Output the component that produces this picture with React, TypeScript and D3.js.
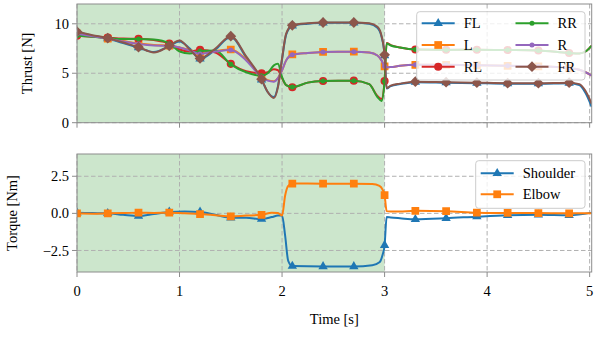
import React from "react";
import * as d3 from "d3";

// thrust samples (s) and per-rotor thrust (N)
const thrustTime = [0, 0.15, 0.3, 0.45, 0.6, 0.75, 0.9, 1.0, 1.1, 1.2, 1.35, 1.5, 1.65, 1.8, 1.86, 1.92, 1.96, 2.0, 2.04, 2.1, 2.25, 2.4, 2.55, 2.7, 2.85, 2.93, 2.97, 3.0, 3.02, 3.06, 3.15, 3.3, 3.6, 3.9, 4.2, 4.5, 4.8, 4.9, 4.96, 5.02];
const thrustFL = [9.15, 8.8, 8.5, 8.05, 7.6, 7.15, 7.75, 8.2, 7.5, 6.45, 7.4, 8.7, 6.6, 4.35, 3.1, 2.6, 3.7, 6.4, 8.9, 9.8, 10.0, 10.1, 10.1, 10.1, 10.0, 9.6, 8.7, 6.8, 3.45, 3.7, 3.9, 4.1, 4.05, 4.0, 3.95, 3.95, 4.0, 3.8, 3.0, 1.6];
const thrustL = [9.0, 8.75, 8.5, 8.25, 8.0, 7.85, 7.8, 7.6, 7.35, 7.05, 7.25, 7.4, 6.4, 4.7, 4.3, 4.2, 4.5, 5.3, 6.3, 6.9, 7.05, 7.15, 7.18, 7.18, 7.1, 6.8, 6.3, 5.7, 5.6, 5.62, 5.75, 5.85, 5.85, 5.8, 5.75, 5.7, 5.5, 5.35, 5.1, 4.75];
const thrustRL = [8.8, 8.7, 8.6, 8.5, 8.48, 8.35, 8.0, 7.4, 7.2, 7.37, 7.1, 5.95, 5.2, 5.0, 5.1, 5.4, 5.3, 4.5, 3.8, 3.58, 4.05, 4.22, 4.25, 4.25, 3.9, 2.7, 2.4, 4.22, 8.05, 7.85, 7.6, 7.4, 7.38, 7.38, 7.35, 7.3, 7.05, 7.0, 7.2, 7.8];
const thrustRR = [8.8, 8.7, 8.55, 8.45, 8.45, 8.4, 8.0, 7.2, 7.0, 7.25, 7.3, 5.9, 5.1, 4.75, 5.0, 5.8, 5.95, 4.6, 3.8, 3.6, 4.05, 4.22, 4.25, 4.25, 3.9, 2.6, 2.2, 4.2, 8.0, 7.8, 7.6, 7.4, 7.35, 7.38, 7.35, 7.3, 7.05, 7.0, 7.2, 7.8];
const thrustR = [9.0, 8.75, 8.5, 8.2, 7.95, 7.8, 7.77, 7.6, 7.3, 6.95, 7.2, 7.35, 6.3, 4.6, 4.25, 4.15, 4.5, 5.3, 6.3, 6.86, 7.05, 7.15, 7.18, 7.18, 7.1, 6.8, 6.3, 5.7, 5.6, 5.62, 5.75, 5.85, 5.85, 5.8, 5.75, 5.7, 5.5, 5.35, 5.1, 4.75];
const thrustFR = [9.2, 8.85, 8.55, 8.1, 7.64, 7.1, 7.77, 8.3, 7.4, 6.5, 7.5, 8.75, 6.7, 4.4, 3.1, 2.5, 3.6, 6.5, 9.0, 9.85, 10.05, 10.13, 10.13, 10.13, 10.05, 9.7, 8.8, 6.86, 3.5, 3.75, 3.95, 4.15, 4.1, 4.05, 4.0, 4.0, 4.05, 3.9, 3.2, 1.9];

// torque samples (s) and joint torques (Nm)
const torqueTime = [0, 0.15, 0.3, 0.45, 0.6, 0.75, 0.9, 1.05, 1.2, 1.35, 1.5, 1.65, 1.8, 1.9, 1.96, 2.0, 2.03, 2.06, 2.1, 2.4, 2.7, 2.88, 2.95, 2.98, 3.0, 3.02, 3.06, 3.15, 3.3, 3.6, 3.9, 4.2, 4.5, 4.8, 5.02];
const torqueShoulder = [0.04, 0.02, 0.0, -0.1, -0.18, -0.05, 0.1, 0.12, 0.1, -0.1, -0.3, -0.3, -0.38, -0.25, -0.15, -0.15, -1.5, -3.2, -3.55, -3.58, -3.58, -3.5, -3.3, -2.8, -2.15, -0.25, -0.28, -0.33, -0.4, -0.33, -0.22, -0.13, -0.1, -0.13, 0.05];
const torqueElbow = [0.0, -0.02, 0.0, 0.02, 0.05, 0.03, 0.05, 0.0, -0.05, -0.12, -0.2, -0.15, -0.1, 0.05, 0.02, -0.15, 1.2, 1.85, 2.01, 2.0, 2.0, 1.98, 1.85, 1.6, 1.23, 0.15, 0.12, 0.13, 0.17, 0.15, 0.05, 0.03, 0.02, 0.0, 0.0];

const xTicks = [0, 1, 2, 3, 4, 5];
const thrustTicks = [0, 5, 10];
const torqueTicks = [-2.5, 0, 2.5];
const shadeSpan = [0, 3];

const FONT = "'Liberation Serif', 'DejaVu Serif', serif";
const FS = 14.5;
const GRID = "#b0b0b0";
const SPINE = "#8c8c8c";

type Shape = "tri" | "sq" | "circ" | "dot" | "dia";
const symbolFor = (s: Shape) => {
  if (s === "tri") return d3.symbol(d3.symbolTriangle, 38)();
  if (s === "sq") return d3.symbol(d3.symbolSquare, 60)();
  if (s === "circ") return d3.symbol(d3.symbolCircle, 52)();
  if (s === "dot") return d3.symbol(d3.symbolCircle, 20)();
  return d3.symbol(d3.symbolSquare, 58)();
};

const Marker = ({ shape, x, y, color }: { shape: Shape; x: number; y: number; color: string }) => (
  <path
    d={symbolFor(shape) as string}
    transform={`translate(${x},${y})${shape === "dia" ? " rotate(45)" : ""}`}
    fill={color}
  />
);

const thrustSeries = [
  { name: "FL", vals: thrustFL, color: "#1f77b4", shape: "tri" as Shape },
  { name: "L", vals: thrustL, color: "#ff7f0e", shape: "sq" as Shape },
  { name: "RL", vals: thrustRL, color: "#d62728", shape: "circ" as Shape },
  { name: "RR", vals: thrustRR, color: "#2ca02c", shape: "dot" as Shape },
  { name: "R", vals: thrustR, color: "#9467bd", shape: "dot" as Shape },
  { name: "FR", vals: thrustFR, color: "#8c564b", shape: "dia" as Shape },
];
const torqueSeries = [
  { name: "Shoulder", vals: torqueShoulder, color: "#1f77b4", shape: "tri" as Shape },
  { name: "Elbow", vals: torqueElbow, color: "#ff7f0e", shape: "sq" as Shape },
];

const isMarkTime = (t: number) => t <= 4.81 && Math.abs(t / 0.3 - Math.round(t / 0.3)) < 1e-6;

const X0 = 77;
const X1 = 591.7;

const Panel = ({ id, top, bottom, domain, ticks, fmt, label, labelX, series, time, showX }: any) => {
  const x = d3.scaleLinear().domain([0, 5.02]).range([X0, X1]);
  const y = d3.scaleLinear().domain(domain).range([bottom, top]);
  const line = d3
    .line<number>()
    .x((_, i) => x(time[i]))
    .y((v) => y(v))
    .curve(d3.curveMonotoneX);
  return (
    <g>
      <defs>
        <clipPath id={id}>
          <rect x={X0} y={top} width={X1 - X0} height={bottom - top} />
        </clipPath>
      </defs>
      <rect x={x(shadeSpan[0])} y={top} width={x(shadeSpan[1]) - x(shadeSpan[0])} height={bottom - top} fill="#cce6cc" />
      {xTicks.map((t) => (
        <line key={"gx" + t} x1={x(t)} x2={x(t)} y1={top} y2={bottom} stroke={GRID} strokeDasharray="4.5,2.5" strokeWidth={1} />
      ))}
      {ticks.map((t: number) => (
        <line key={"gy" + t} x1={X0} x2={X1} y1={y(t)} y2={y(t)} stroke={GRID} strokeDasharray="4.5,2.5" strokeWidth={1} />
      ))}
      <g clipPath={`url(#${id})`}>
        {series.map((s: any) => (
          <g key={s.name}>
            <path d={line(s.vals) as string} fill="none" stroke={s.color} strokeWidth={2} />
            {s.vals.map((v: number, i: number) =>
              isMarkTime(time[i]) ? <Marker key={i} shape={s.shape} x={x(time[i])} y={y(v)} color={s.color} /> : null
            )}
          </g>
        ))}
      </g>
      <rect x={X0} y={top} width={X1 - X0} height={bottom - top} fill="none" stroke={SPINE} strokeWidth={1} />
      {xTicks.map((t) => (
        <line key={"tx" + t} x1={x(t)} x2={x(t)} y1={bottom} y2={bottom + 5} stroke={SPINE} />
      ))}
      {ticks.map((t: number) => (
        <g key={"ty" + t}>
          <line x1={X0 - 5} x2={X0} y1={y(t)} y2={y(t)} stroke={SPINE} />
          <text x={X0 - 8} y={y(t)} dy="0.35em" textAnchor="end" fontFamily={FONT} fontSize={FS} fill="#000">
            {fmt(t)}
          </text>
        </g>
      ))}
      {showX &&
        xTicks.map((t) => (
          <text key={"lx" + t} x={x(t)} y={bottom + 24} textAnchor="middle" fontFamily={FONT} fontSize={FS} fill="#000">
            {t}
          </text>
        ))}
      <text
        transform={`translate(${labelX},${(top + bottom) / 2}) rotate(-90)`}
        textAnchor="middle"
        dy="0.35em"
        fontFamily={FONT}
        fontSize={FS}
        fill="#000"
      >
        {label}
      </text>
    </g>
  );
};

const LegendEntry = ({ s, x, y }: any) => (
  <g>
    <line x1={x} x2={x + 33} y1={y} y2={y} stroke={s.color} strokeWidth={2} />
    <Marker shape={s.shape} x={x + 16.5} y={y} color={s.color} />
    <text x={x + 42} y={y} dy="0.35em" fontFamily={FONT} fontSize={FS} fill="#000">
      {s.name}
    </text>
  </g>
);

export default function App() {
  const fmtThrust = (t: number) => d3.format("d")(t);
  const fmtTorque = (t: number) => d3.format(".1f")(t).replace("-", "\u2212");
  return (
    <svg width={598} height={346} style={{ position: "absolute", left: 0, top: 0, background: "#fff" }}>
      <Panel
        id="clipTop"
        top={4}
        bottom={122.7}
        domain={[0, 12]}
        ticks={thrustTicks}
        fmt={fmtThrust}
        label="Thrust [N]"
        labelX={27}
        series={thrustSeries}
        time={thrustTime}
        showX={false}
      />
      <Panel
        id="clipBottom"
        top={154}
        bottom={272}
        domain={[-3.95, 4]}
        ticks={torqueTicks}
        fmt={fmtTorque}
        label="Torque [Nm]"
        labelX={12}
        series={torqueSeries}
        time={torqueTime}
        showX={true}
      />
      <text x={(X0 + X1) / 2} y={324} textAnchor="middle" fontFamily={FONT} fontSize={FS} fill="#000">
        Time [s]
      </text>
      {/* thrust legend */}
      <rect x={416.7} y={11.7} width={168.3} height={68.3} rx={3} fill="#fff" fillOpacity={0.8} stroke="#cccccc" />
      {thrustSeries.map((s, i) => (
        <LegendEntry key={s.name} s={s} x={i < 3 ? 421.7 : 515.5} y={23.3 + (i % 3) * 21.7} />
      ))}
      {/* torque legend */}
      <rect x={475.7} y={160.7} width={109.3} height={47.6} rx={3} fill="#fff" fillOpacity={0.8} stroke="#cccccc" />
      {torqueSeries.map((s, i) => (
        <LegendEntry key={s.name} s={s} x={480.7} y={173.3 + i * 21} />
      ))}
    </svg>
  );
}
